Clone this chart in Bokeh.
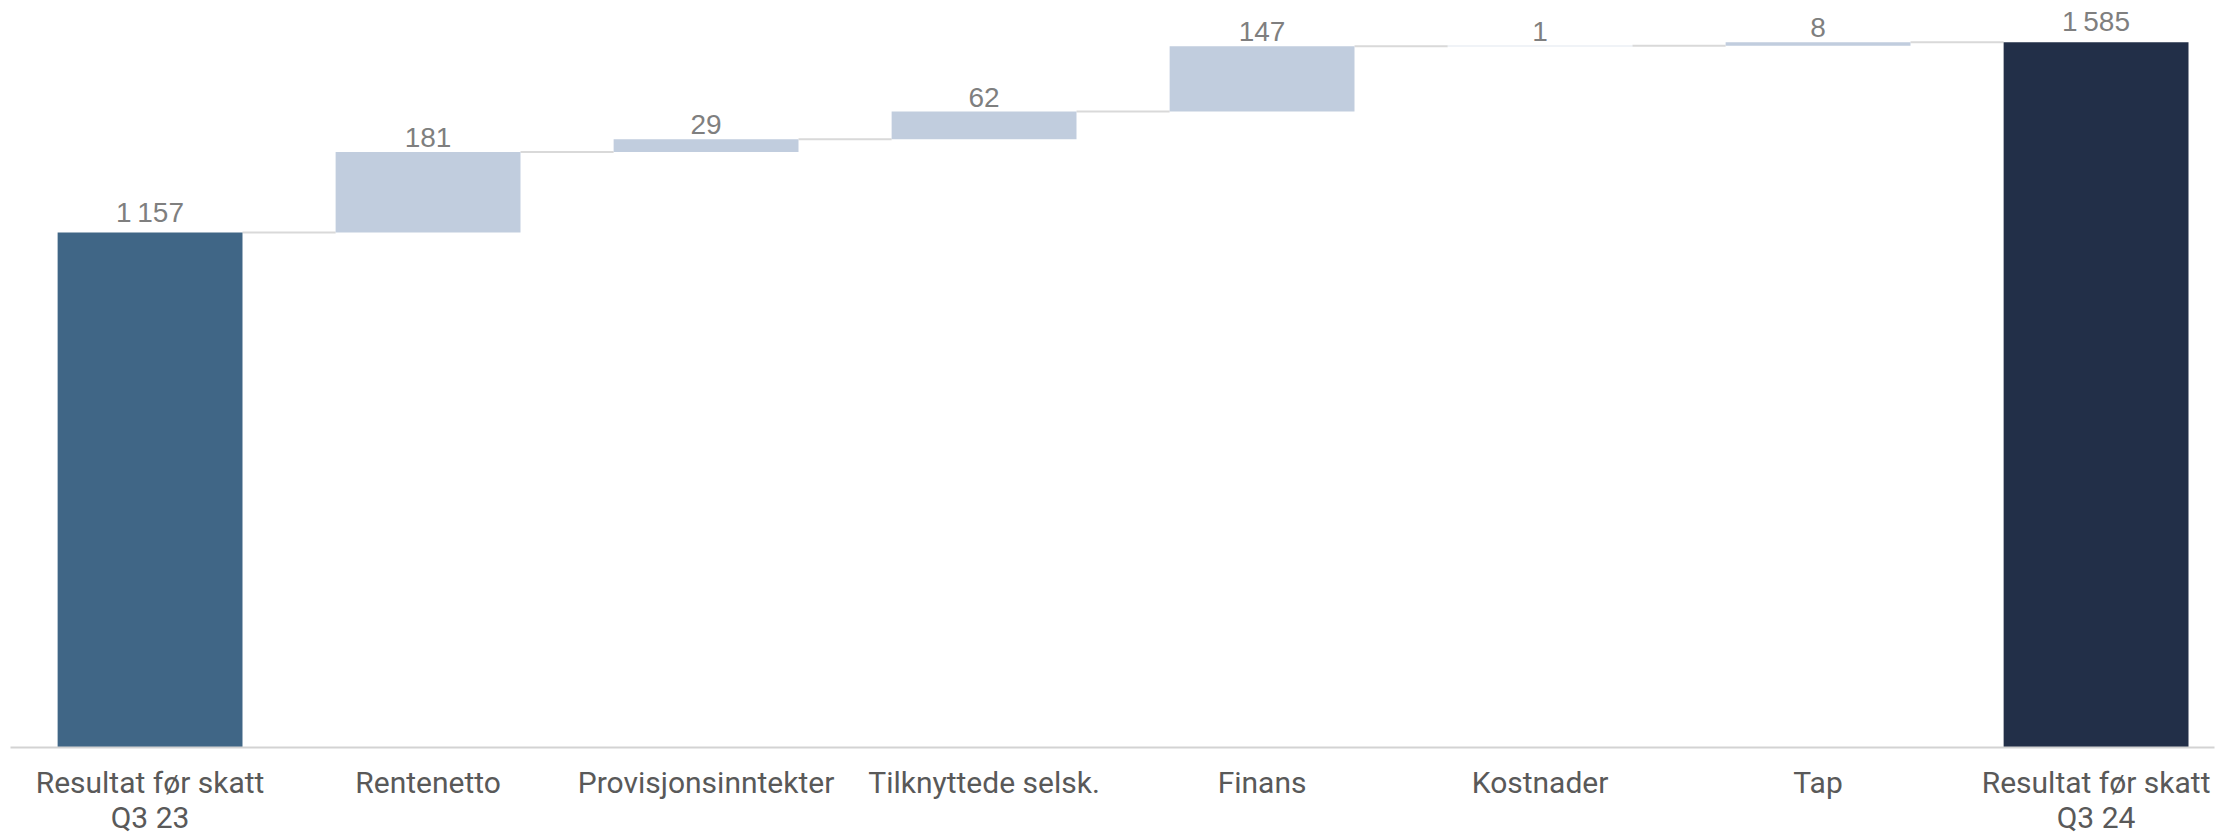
from bokeh.plotting import figure
from bokeh.models import ColumnDataSource, FixedTicker, Range1d
from bokeh.core.properties import value
from bokeh.embed import file_html
from bokeh.resources import INLINE

categories = ["Resultat før skatt\nQ3 23", "Rentenetto", "Provisjonsinntekter",
              "Tilknyttede selsk.", "Finans", "Kostnader", "Tap",
              "Resultat før skatt\nQ3 24"]
values = [1157, 181, 29, 62, 147, 1, 8, 1585]
kinds = ["start", "delta", "delta", "delta", "delta", "delta", "delta", "total"]

colors_by_kind = {"start": "#406686", "delta": "#C1CDDE", "total": "#222F48"}

W = 0.665
xs, bottoms, tops, cols, labels = [], [], [], [], []
run = 0
for i, (v, k) in enumerate(zip(values, kinds)):
    if k == "delta":
        b, t = run, run + v
        run = t
    else:
        b, t = 0, v
        run = v
    xs.append(i)
    bottoms.append(b)
    tops.append(t)
    cols.append(colors_by_kind[k])
    labels.append(f"{v:,}".replace(",", "\u2009"))

src = ColumnDataSource(dict(x=xs, bottom=bottoms, top=tops, color=cols, label=labels))

p = figure(width=2217, height=837, output_backend="svg", toolbar_location=None,
           x_range=Range1d(-0.502, 7.426), y_range=Range1d(0, 1678.6),
           min_border_left=10, min_border_right=3, min_border_top=0, min_border_bottom=88)
p.outline_line_color = None
p.grid.visible = False
p.yaxis.visible = False

# connectors
cx0 = [xs[i] + W / 2 for i in range(len(xs) - 1)]
cx1 = [xs[i + 1] - W / 2 for i in range(len(xs) - 1)]
cy = [tops[i] for i in range(len(xs) - 1)]
p.segment(x0=cx0, y0=cy, x1=cx1, y1=cy, line_color="#D9D9D9", line_width=2)

p.vbar(x="x", bottom="bottom", top="top", width=W, fill_color="color",
       line_color=None, source=src)

p.text(x="x", y="top", text="label", source=src, text_align="center",
       text_baseline="bottom", y_offset=-5, text_color="#7F7F7F",
       text_font=value("Liberation Sans"), text_font_size="28px")

ax = p.xaxis[0]
ax.ticker = FixedTicker(ticks=xs)
ax.major_label_overrides = {i: c for i, c in enumerate(categories)}
ax.axis_line_color = "#D3D3D3"
ax.axis_line_width = 2
ax.major_tick_line_color = None
ax.minor_tick_line_color = None
ax.major_tick_out = 0
ax.major_tick_in = 0
ax.major_label_standoff = 17
ax.major_label_text_font = "Roboto"
ax.major_label_text_font_size = "30px"
ax.major_label_text_color = "#595959"
ax.major_label_text_line_height = 1.0

open("out.html", "w").write(file_html(p, INLINE))
